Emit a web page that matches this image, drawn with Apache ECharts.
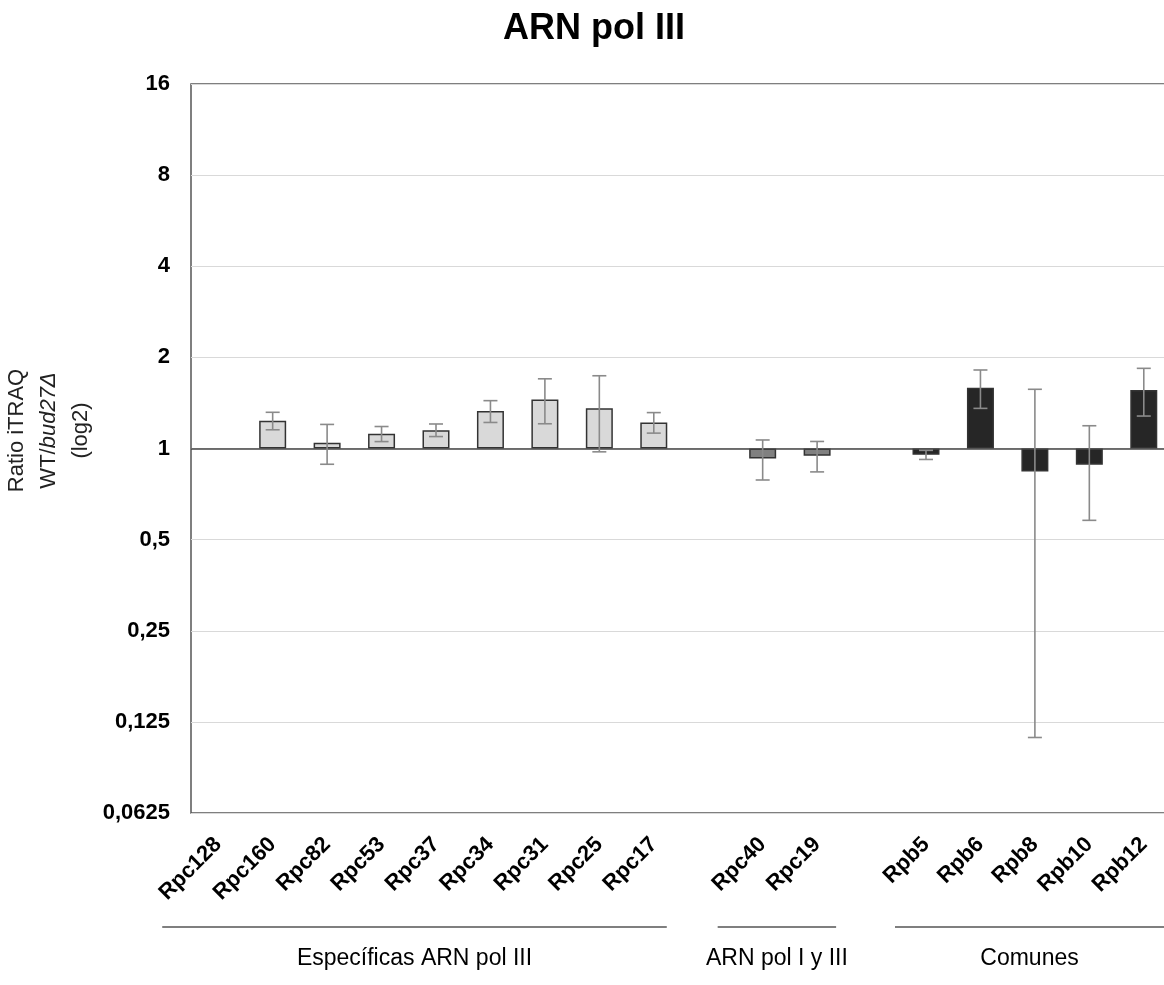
<!DOCTYPE html>
<html>
<head>
<meta charset="utf-8">
<script src="https://cdn.jsdelivr.net/npm/echarts@6/dist/echarts.min.js"></script>
<style>
  html, body { margin: 0; padding: 0; background: #fff; }
  #chart { width: 1164px; height: 985px; }
</style>
</head>
<body>
<div id="chart"></div>
<script>
// Subunits of RNA polymerase III; empty names are spacer slots between groups.
const categories = ['Rpc128', 'Rpc160', 'Rpc82', 'Rpc53', 'Rpc37', 'Rpc34', 'Rpc31', 'Rpc25', 'Rpc17',
  '', 'Rpc40', 'Rpc19', '', 'Rpb5', 'Rpb6', 'Rpb8', 'Rpb10', 'Rpb12'];
// Mean iTRAQ ratio WT / bud27Δ
const ratios = [null, 1.235, 1.044, 1.118, 1.150, 1.329, 1.453, 1.357, 1.219,
  null, 0.927, 0.946, null, 0.953, 1.587, 0.840, 0.884, 1.560];
// Standard deviation of each ratio
const deviations = [null, 0.082, 0.157, 0.064, 0.055, 0.110, 0.246, 0.382, 0.095,
  null, 0.140, 0.109, null, 0.033, 0.230, 0.729, 0.305, 0.280];
// Group of each slot: 0 = specific to pol III, 1 = shared pol I and III, 2 = common
const groupOf = [0, 0, 0, 0, 0, 0, 0, 0, 0, null, 1, 1, null, 2, 2, 2, 2, 2];
const groupNames = ['Específicas ARN pol III', 'ARN pol I y III', 'Comunes'];
const groupSpans = [['Rpc128', 'Rpc17'], ['Rpc40', 'Rpc19'], ['Rpb5', 'Rpb12']];
const groupColors = ['#d9d9d9', '#808080', '#262626'];
const yTicks = [0.0625, 0.125, 0.25, 0.5, 1, 2, 4, 8, 16];

const FONT = '"Liberation Sans", Arial, sans-serif';

// Plot box; the right edge runs slightly past the canvas.
const GRID = { left: 191, top: 84, width: 980, height: 729 };
// How far each bracket reaches past its first / last category centre (px).
const bracketPad = [[-56, 13], [-45, 19], [-31, 60]];

const barData = ratios.map((v, i) => ({
  value: v,
  itemStyle: { color: groupOf[i] == null ? '#fff' : groupColors[groupOf[i]] }
}));
const errData = ratios.map((v, i) => v == null ? null : [i, v - deviations[i], v + deviations[i]])
  .filter(d => d);

const chart = echarts.init(document.getElementById('chart'), null, { renderer: 'canvas' });

chart.setOption({
  animation: false,
  backgroundColor: '#fff',
  title: {
    text: 'ARN pol III',
    left: 498,
    top: 6,
    textStyle: { fontFamily: FONT, fontSize: 36, fontWeight: 'bold', color: '#000' }
  },
  grid: {
    left: GRID.left, top: GRID.top, width: GRID.width, height: GRID.height,
    outerBoundsMode: 'none',
    containLabel: false,
    show: true, borderColor: '#555', borderWidth: 1.5, backgroundColor: 'transparent'
  },
  xAxis: {
    type: 'category',
    data: categories,
    axisLine: { show: false },
    axisTick: { show: false },
    splitLine: { show: false },
    axisLabel: {
      interval: 0,
      rotate: 45,
      margin: 28,
      fontFamily: FONT,
      fontSize: 22,
      fontWeight: 'bold',
      color: '#000'
    }
  },
  yAxis: {
    type: 'log',
    logBase: 2,
    min: yTicks[0],
    max: yTicks[yTicks.length - 1],
    interval: 1,
    axisLine: { show: false },
    axisTick: { show: false },
    splitLine: { show: true, lineStyle: { color: '#d9d9d9', width: 1 } },
    axisLabel: {
      margin: 21,
      fontFamily: FONT,
      fontSize: 22,
      fontWeight: 'bold',
      color: '#000',
      formatter: v => {
        const t = yTicks.find(k => Math.abs(k - v) < 1e-9);
        return String(t != null ? t : v).replace('.', ',');
      }
    },
    name: '{a|Ratio iTRAQ}\n{a|WT/}{i|bud27Δ}\n{a|(log2)}',
    nameLocation: 'middle',
    nameRotate: 90,
    nameGap: 88,
    nameTextStyle: {
      padding: [0, 0, 0, 36],
      rich: {
        a: { fontFamily: FONT, fontSize: 22, color: '#222', lineHeight: 32 },
        i: { fontFamily: FONT, fontSize: 22, color: '#222', fontStyle: 'italic', lineHeight: 32 }
      }
    }
  },
  series: [
    {
      type: 'bar',
      data: barData,
      barWidth: 27,
      itemStyle: { borderColor: '#333', borderWidth: 1.5 },
      markLine: {
        silent: true,
        symbol: 'none',
        label: { show: false },
        lineStyle: { color: '#444', width: 1.5, type: 'solid' },
        data: [{ yAxis: 1 }]
      },
      z: 2
    },
    {
      type: 'custom',
      data: errData,
      z: 5,
      renderItem: (params, api) => {
        const lo = api.coord([api.value(0), api.value(1)]);
        const hi = api.coord([api.value(0), api.value(2)]);
        const cap = 7;
        const style = { stroke: '#8a8a8a', lineWidth: 1.6 };
        return {
          type: 'group',
          children: [
            { type: 'line', shape: { x1: hi[0], y1: hi[1], x2: lo[0], y2: lo[1] }, style },
            { type: 'line', shape: { x1: hi[0] - cap, y1: hi[1], x2: hi[0] + cap, y2: hi[1] }, style },
            { type: 'line', shape: { x1: lo[0] - cap, y1: lo[1], x2: lo[0] + cap, y2: lo[1] }, style }
          ]
        };
      }
    }
  ]
});

// Group brackets under the category labels, placed from the category axis positions.
function drawGroups() {
  const lineY = 927;
  const textY = 959;
  const children = [];
  groupSpans.forEach((span, g) => {
    const x0 = chart.convertToPixel({ xAxisIndex: 0 }, span[0]) + bracketPad[g][0];
    const x1 = chart.convertToPixel({ xAxisIndex: 0 }, span[1]) + bracketPad[g][1];
    children.push({
      type: 'line',
      shape: { x1: x0, y1: lineY, x2: x1, y2: lineY },
      style: { stroke: '#555', lineWidth: 1.5 }
    });
    const xEnd = Math.min(x1, 1164);
    children.push({
      type: 'text',
      x: (x0 + xEnd) / 2,
      y: textY,
      style: {
        text: groupNames[g],
        font: '23px ' + FONT,
        fill: '#000',
        align: 'center',
        verticalAlign: 'middle'
      }
    });
  });
  chart.setOption({ graphic: [{ type: 'group', children }] });
}
drawGroups();
</script>
</body>
</html>
